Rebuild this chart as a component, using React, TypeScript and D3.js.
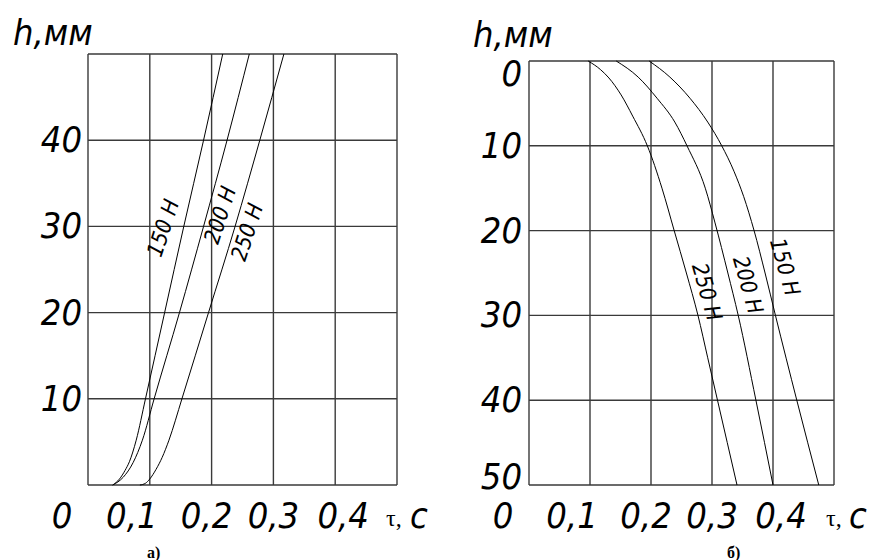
import React from 'react';
import * as d3 from 'd3';

// chart а) — h grows with time
const forcesA = ['150 H', '200 H', '250 H'];
const tauA150 = [0.040, 0.051, 0.060, 0.067, 0.078, 0.093, 0.124, 0.155, 0.187, 0.218];
const hA150 = [0, 0.7, 1.7, 2.7, 5.2, 10, 20, 30, 40, 50];
const tauA200 = [0.040, 0.057, 0.073, 0.088, 0.107, 0.148, 0.187, 0.225, 0.261];
const hA200 = [0, 0.9, 2.6, 5.2, 10, 20, 30, 40, 50];
const tauA250 = [0.084, 0.093, 0.100, 0.110, 0.120, 0.131, 0.152, 0.195, 0.238, 0.278, 0.317];
const hA250 = [0, 0.2, 0.7, 1.8, 3.2, 5.2, 10, 20, 30, 40, 50];

// chart б) — h measured downward
const tauB250 = [0.097, 0.117, 0.131, 0.151, 0.170, 0.194, 0.218, 0.238, 0.258, 0.277, 0.293, 0.309, 0.325, 0.341];
const hB250 = [0, 1, 2, 4, 6.5, 10, 15, 20, 25, 30, 35, 40, 45, 50];
const tauB200 = [0.143, 0.179, 0.210, 0.239, 0.259, 0.289, 0.305, 0.326, 0.343, 0.372, 0.400];
const hB200 = [0, 1.9, 4.4, 7.2, 10, 15, 19.1, 25, 30, 40, 50];
const tauB150 = [0.197, 0.231, 0.264, 0.293, 0.316, 0.336, 0.352, 0.369, 0.387, 0.404, 0.439, 0.475];
const hB150 = [0, 1.9, 4.4, 7.2, 10, 13, 16, 20, 25, 30, 40, 50];

const tauTicks = [0, 0.1, 0.2, 0.3, 0.4];
const tauLabels = ['0', '0,1', '0,2', '0,3', '0,4'];
const hTicksA = [10, 20, 30, 40];
const hTicksB = [0, 10, 20, 30, 40, 50];

const FONT = "'DejaVu Sans Condensed', 'Liberation Sans Narrow', 'DejaVu Sans', sans-serif";

function zip(t: number[], h: number[]) {
  return t.map((v, i) => [v, h[i]] as [number, number]);
}

function Grid({ x, y }: { x: any; y: any }) {
  const xs = d3.range(0, 0.51, 0.1);
  const ys = d3.range(0, 51, 10);
  return (
    <g stroke="#3a3a3a" strokeWidth={1.4}>
      {xs.map((v) => (
        <line key={'x' + v} x1={x(v)} x2={x(v)} y1={y.range()[0]} y2={y.range()[1]} />
      ))}
      {ys.map((v) => (
        <line key={'y' + v} x1={x.range()[0]} x2={x.range()[1]} y1={y(v)} y2={y(v)} />
      ))}
    </g>
  );
}

export default function App() {
  // left chart
  const xA = d3.scaleLinear().domain([0, 0.5]).range([88, 397]);
  const yA = d3.scaleLinear().domain([0, 50]).range([485, 54]);
  // right chart
  const xB = d3.scaleLinear().domain([0, 0.5]).range([529, 834]);
  const yB = d3.scaleLinear().domain([0, 50]).range([61, 485]);

  const lineA = d3.line<[number, number]>().x((d) => xA(d[0])).y((d) => yA(d[1])).curve(d3.curveMonotoneX);
  const lineB = d3.line<[number, number]>().x((d) => xB(d[0])).y((d) => yB(d[1])).curve(d3.curveMonotoneX);

  const curvesA = [zip(tauA150, hA150), zip(tauA200, hA200), zip(tauA250, hA250)];
  const curvesB = [zip(tauB250, hB250), zip(tauB200, hB200), zip(tauB150, hB150)];

  const labA = [
    { x: 163, y: 228 },
    { x: 220, y: 215 },
    { x: 247, y: 232 },
  ];
  const labB = [
    { x: 707, y: 292, t: '250 H' },
    { x: 748, y: 285, t: '200 H' },
    { x: 785, y: 267, t: '150 H' },
  ];
  const xNudge = [-26, -18, -5, 0, 8];

  return (
    <svg width={875} height={560} style={{ position: 'absolute', left: 0, top: 0, background: '#fff' }}>
      <rect width={875} height={560} fill="#fff" />
      <g fontFamily={FONT} fontStyle="italic" fill="#000">
        {/* ---- а) ---- */}
        <Grid x={xA} y={yA} />
        {curvesA.map((c, i) => (
          <path key={i} d={lineA(c) || ''} fill="none" stroke="#000" strokeWidth={1} />
        ))}
        {forcesA.map((f, i) => (
          <text key={f} x={labA[i].x} y={labA[i].y} fontSize={22} textAnchor="middle" dominantBaseline="central"
            transform={`rotate(-72 ${labA[i].x} ${labA[i].y})`}>{f}</text>
        ))}
        <text x={13} y={45} fontSize={36}>h,мм</text>
        {hTicksA.map((v) => (
          <text key={v} x={82} y={yA(v) + 12} fontSize={36} textAnchor="end">{v}</text>
        ))}
        {tauTicks.map((v, i) => (
          <text key={v} x={xA(v) + xNudge[i]} y={528} fontSize={36} textAnchor="middle">{tauLabels[i]}</text>
        ))}
        <text x={386} y={526} fontSize={24} fontFamily="'Liberation Serif', serif" fontStyle="normal">τ,</text>
        <text x={410} y={528} fontSize={36}>с</text>
        <text x={147} y={558} fontSize={16} fontFamily="'Liberation Serif', serif" fontStyle="normal" fontWeight="bold">а)</text>

        {/* ---- б) ---- */}
        <Grid x={xB} y={yB} />
        {curvesB.map((c, i) => (
          <path key={i} d={lineB(c) || ''} fill="none" stroke="#000" strokeWidth={1} />
        ))}
        {labB.map((l) => (
          <text key={l.t} x={l.x} y={l.y} fontSize={22} textAnchor="middle" dominantBaseline="central"
            transform={`rotate(74 ${l.x} ${l.y})`}>{l.t}</text>
        ))}
        <text x={473} y={47} fontSize={36}>h,мм</text>
        {hTicksB.map((v) => (
          <text key={v} x={522} y={yB(v) + (v === 0 ? 25 : v === 50 ? 4 : 12)} fontSize={36} textAnchor="end">{v}</text>
        ))}
        {tauTicks.map((v, i) => (
          <text key={v} x={xB(v) + xNudge[i]} y={528} fontSize={36} textAnchor="middle">{tauLabels[i]}</text>
        ))}
        <text x={826} y={526} fontSize={24} fontFamily="'Liberation Serif', serif" fontStyle="normal">τ,</text>
        <text x={849} y={528} fontSize={36}>с</text>
        <text x={727} y={558} fontSize={16} fontFamily="'Liberation Serif', serif" fontStyle="normal" fontWeight="bold">б)</text>
      </g>
    </svg>
  );
}
